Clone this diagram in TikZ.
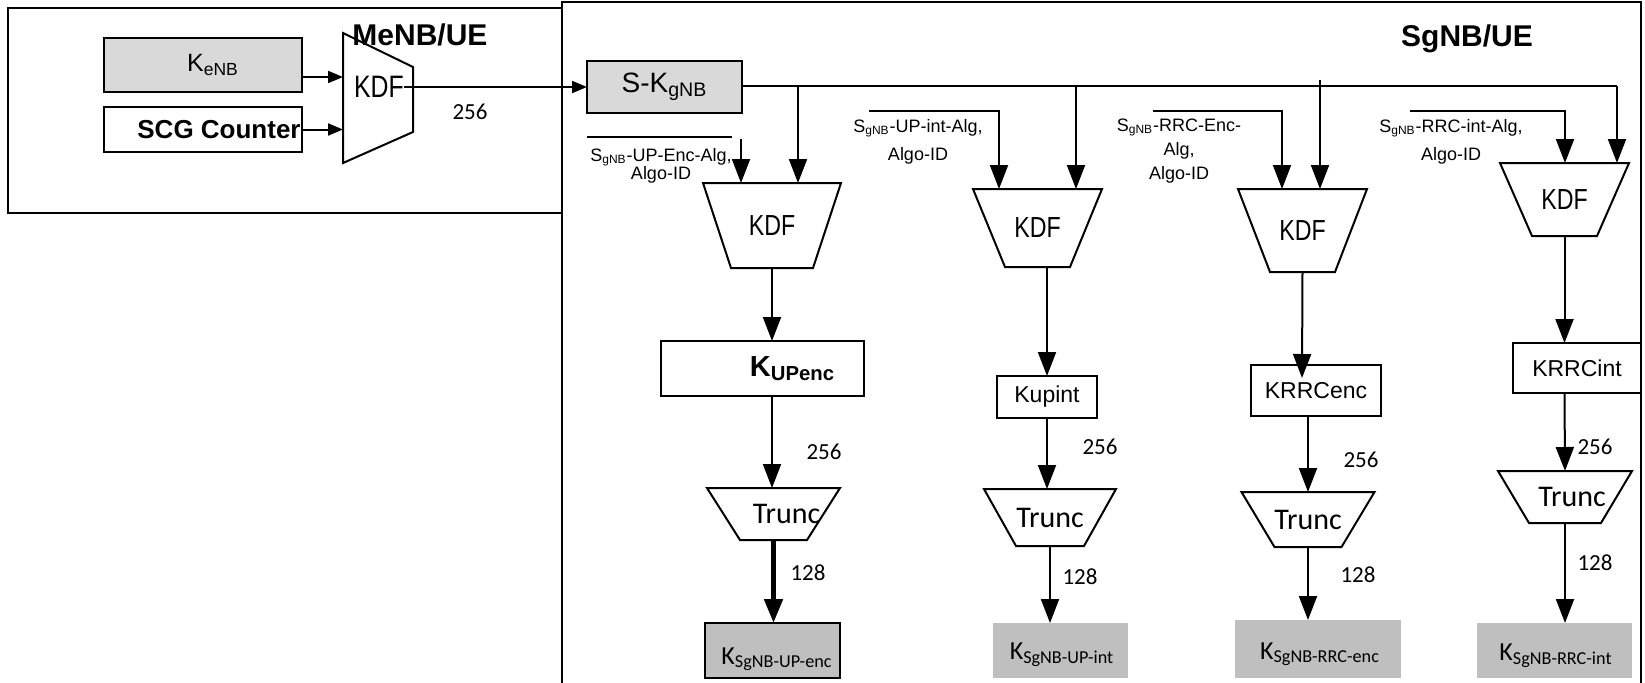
\documentclass[tikz,border=0pt]{standalone}
\usepackage{fontspec}
\usepackage{graphicx}
\setmainfont{Liberation Sans}
\newfontfamily\cbr{Carlito}
\usetikzlibrary{arrows.meta,calc}
\definecolor{ingray}{HTML}{D9D9D9}
\definecolor{outgray}{HTML}{BFBFBF}
\newcommand\trapdown[2]{\draw[ln] (#1.north west) -- (#1.north east) -- ([xshift=-#2]#1.south east) -- ([xshift=#2]#1.south west) -- cycle;}
\begin{document}
\begin{tikzpicture}[x=0.5pt,y=-0.5pt,
 ln/.style={line width=1pt},
 arr/.style={line width=1pt,-{Triangle[length=12pt,width=9pt]}},
 sarr/.style={line width=1pt,-{Triangle[length=7.5pt,width=6pt]}},
 box/.style={draw,line width=1pt,inner sep=0pt,outer sep=0pt},
 frame/.style={inner sep=0pt,outer sep=0pt},
 kdft/.style={frame,font=\fontsize{14.5}{16}\selectfont},
 boxt/.style={box,font=\fontsize{11.5}{13}\selectfont},
 num/.style={inner sep=0pt,font=\cbr\fontsize{11.5}{13}\selectfont},
 trt/.style={frame,font=\cbr\fontsize{15}{17}\selectfont},
 alg/.style={inner sep=0pt,align=center,font=\fontsize{9}{14}\selectfont},
 outbox/.style={fill=outgray,inner sep=0pt,outer sep=0pt},
 outt/.style={inner sep=0pt,anchor=base,font=\cbr\fontsize{13}{15}\selectfont},
 ttl/.style={inner sep=0pt,font=\bfseries\fontsize{15}{18}\selectfont}]
\useasboundingbox (0,0) rectangle (1645,682);

% frames
\draw[ln] (8,8) rectangle (562,213);
\draw[ln] (562,684) -- (562,2) -- (1641,2) -- (1641,684);
\node[ttl] (menbt) at (420,35) {MeNB/UE};
\node[ttl] (sgnbt) at (1467,39) {SgNB/UE};

% MeNB part
\node[box,fill=ingray,minimum width=99pt,minimum height=27pt,font=\fontsize{12.5}{14}\selectfont] (kenb) at (203,65) {\hspace*{10pt}K\textsubscript{eNB}};
\node[box,minimum width=99pt,minimum height=22.5pt,font=\bfseries\fontsize{13}{15}\selectfont] (scg) at (203,129.5) {\hspace*{16pt}SCG Counter};
\node[frame,minimum width=35pt,minimum height=65pt] (kdf0) at (378,98) {};
\draw[ln] (kdf0.north west) -- ([yshift=-17pt]kdf0.north east) -- ([yshift=15.5pt]kdf0.south east) -- (kdf0.south west) -- cycle;
\node[frame,font=\fontsize{15.5}{17}\selectfont] (kdf0t) at (379,87) {\scalebox{0.8}[1]{KDF}};
\coordinate (kenbo) at ($(kenb.east)+(0,12)$);
\draw[sarr] (kenbo) -- (kenbo -| kdf0.west);
\draw[sarr] (scg.east) -- (scg.east -| kdf0.west);
\node[box,fill=ingray,minimum width=77.5pt,minimum height=26pt,font=\fontsize{14}{16}\selectfont] (skg) at (664.5,87) {S-K\textsubscript{gNB}};
\draw[sarr] (kdf0t.east) -- (kdf0t.east -| skg.west);
\node[num] (n0) at (470,112) {256};

% main distribution line
\coordinate (d1) at (798,86);
\coordinate (d2) at (1076,86);
\coordinate (d3) at (1320,80);
\coordinate (d4) at (1617,86);
\draw[ln] (skg.east |- d1) -- (d4);

% column 1
\node[alg,font=\fontsize{9}{9}\selectfont] (alg1) at (661,166) {S\textsubscript{gNB}-UP-Enc-Alg,\\Algo-ID};
\coordinate (a1s) at (587,137);
\coordinate (a1e) at (732,137);
\coordinate (a1d) at (741,139);
\draw[ln] (a1s) -- (a1e);
\node[kdft,minimum width=69pt,minimum height=42.5pt] (kdf1) at (772,225.5) {\scalebox{0.8}[1]{KDF}};
\trapdown{kdf1}{14pt}
\draw[arr] (a1d) -- (a1d |- kdf1.north);
\draw[arr] (d1) -- (d1 |- kdf1.north);
\node[box,minimum width=101.5pt,minimum height=27.5pt,font=\bfseries\fontsize{14.5}{16}\selectfont] (kup1) at (762.5,368.5) {\hspace*{30pt}K\textsubscript{UPenc}};
\draw[arr] (kdf1.south) -- (kdf1.south |- kup1.north);
\node[trt,minimum width=66.5pt,minimum height=26pt] (tr1) at (773.5,514) {\hspace*{13pt}Trunc};
\trapdown{tr1}{16.5pt}
\draw[arr] (kdf1.south |- kup1.south) -- (kdf1.south |- tr1.north);
\node[num] (n1a) at (824,452) {256};
\node[outbox,draw,line width=1pt,minimum width=67.5pt,minimum height=27.5pt] (o1) at (772.5,650.5) {};
\node[outt] (o1t) at (777,664) {K\textsubscript{SgNB-UP-enc}};
\draw[line width=2.5pt,-{Triangle[length=12pt,width=9pt]}] (tr1.south) -- (tr1.south |- o1.north);
\node[num] (n1b) at (808,573) {128};

% column 2
\node[alg] (alg2) at (918,142) {S\textsubscript{gNB}-UP-int-Alg,\\Algo-ID};
\coordinate (a2s) at (869,111);
\coordinate (a2c) at (999,111);
\node[kdft,minimum width=64.5pt,minimum height=39pt] (kdf2) at (1037.5,228) {\scalebox{0.8}[1]{KDF}};
\trapdown{kdf2}{16pt}
\draw[arr] (a2s) -- (a2c) -- (a2c |- kdf2.north);
\draw[arr] (d2) -- (d2 |- kdf2.north);
\node[boxt,minimum width=50pt,minimum height=21pt] (kup2) at (1047,397) {Kupint};
\draw[arr] (kup2.north |- kdf2.south) -- (kup2.north);
\node[trt,minimum width=66pt,minimum height=28.5pt] (tr2) at (1050,517.5) {Trunc};
\trapdown{tr2}{16pt}
\draw[arr] (kup2.south) -- (kup2.south |- tr2.north);
\node[num] (n2a) at (1100,447) {256};
\node[outbox,minimum width=67.5pt,minimum height=27.5pt] (o2) at (1060.5,650.5) {};
\node[outt] (o2t) at (1062,659) {K\textsubscript{SgNB-UP-int}};
\draw[arr] (tr2.south) -- (tr2.south |- o2.north);
\node[num] (n2b) at (1080,577) {128};

% column 3
\node[alg,font=\fontsize{9}{12}\selectfont] (alg3) at (1179,151) {S\textsubscript{gNB}-RRC-Enc-\\Alg,\\Algo-ID};
\coordinate (a3s) at (1153,111);
\coordinate (a3c) at (1282,111);
\node[kdft,minimum width=64.5pt,minimum height=41.5pt] (kdf3) at (1302.5,230.5) {\scalebox{0.8}[1]{KDF}};
\trapdown{kdf3}{16pt}
\draw[arr] (a3s) -- (a3c) -- (a3c |- kdf3.north);
\draw[arr] (d3) -- (d3 |- kdf3.north);
\node[boxt,minimum width=65pt,minimum height=25.5pt] (kup3) at (1316,390.5) {KRRCenc};
\coordinate (k3tip) at (1302,378);
\draw[arr] (kdf3.south) -- (k3tip);
\node[trt,minimum width=66.5pt,minimum height=27.5pt] (tr3) at (1308,519.5) {Trunc};
\trapdown{tr3}{16.5pt}
\draw[arr] (tr3.north |- kup3.south) -- (tr3.north);
\node[num] (n3a) at (1361,460) {256};
\node[outbox,minimum width=83pt,minimum height=29pt] (o3) at (1318,649) {};
\node[outt] (o3t) at (1320,659) {K\textsubscript{SgNB-RRC-enc}};
\draw[arr] (tr3.south) -- (tr3.south |- o3.north);
\node[num] (n3b) at (1358,575) {128};

% column 4
\node[alg] (alg4) at (1451,142) {S\textsubscript{gNB}-RRC-int-Alg,\\Algo-ID};
\coordinate (a4s) at (1410,111);
\coordinate (a4c) at (1565,111);
\node[kdft,minimum width=64.5pt,minimum height=36.5pt] (kdf4) at (1564.5,199.5) {\scalebox{0.8}[1]{KDF}};
\trapdown{kdf4}{16pt}
\draw[arr] (a4s) -- (a4c) -- (a4c |- kdf4.north);
\draw[arr] (d4) -- (d4 |- kdf4.north);
\node[boxt,minimum width=64pt,minimum height=25pt] (kup4) at (1577,368) {KRRCint};
\draw[arr] (kdf4.south) -- (kdf4.south |- kup4.north);
\node[trt,minimum width=67pt,minimum height=26pt] (tr4) at (1565,497) {\hspace*{7pt}Trunc};
\trapdown{tr4}{15.5pt}
\draw[arr] (kdf4.south |- kup4.south) -- (tr4.north);
\node[num] (n4a) at (1595,447) {256};
\node[outbox,minimum width=77.5pt,minimum height=27.5pt] (o4) at (1554.5,650.5) {};
\node[outt] (o4t) at (1556,660) {K\textsubscript{SgNB-RRC-int}};
\draw[arr] (tr4.south) -- (tr4.south |- o4.north);
\node[num] (n4b) at (1595,563) {128};
\end{tikzpicture}
\end{document}
